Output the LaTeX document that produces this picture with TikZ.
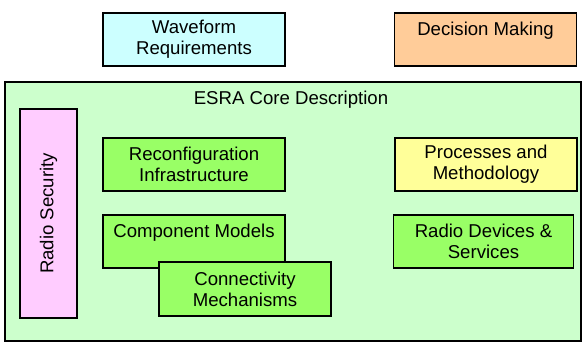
\documentclass[tikz,border=0pt]{standalone}
\usepackage{fontspec}
\setmainfont{Liberation Sans}
\usetikzlibrary{positioning}

\definecolor{wavecyan}{HTML}{CCFFFF}
\definecolor{decorange}{HTML}{FFCC99}
\definecolor{coregreen}{HTML}{CCFFCC}
\definecolor{partgreen}{HTML}{99FF66}
\definecolor{procyellow}{HTML}{FFFF99}
\definecolor{secpink}{HTML}{FFCCFF}

\begin{document}
\begin{tikzpicture}[x=1pt, y=-1pt, font=\fontsize{18.6}{21}\selectfont,
    node distance=22.5pt and 108.5pt,
    box/.style={draw, line width=1.5pt, minimum width=182pt, minimum height=53pt,
        align=center, inner sep=2pt, fill=partgreen}]
    \useasboundingbox (0,0) rectangle (584,343);
    \node[box, fill=wavecyan] (wave) at (194,39.5) {Waveform\\Requirements};
    \node[box, fill=decorange] (decide) at (485.5,39.5) {Decision Making\\\mbox{}};

    % core frame and its parts
    \node[draw, line width=1.5pt, fill=coregreen, minimum width=576pt, minimum height=259pt] (core) at (293,211.5) {};
    \node (title) at (291,100) {ESRA Core Description};
    \node[box, fill=secpink, minimum width=209pt, minimum height=57pt, rotate=90] (secure) at (48.5,213.5) {Radio Security};
    \node[box] (reconf) at (194,164.5) {Reconfiguration\\Infrastructure};
    \node[box, right=of reconf, fill=procyellow] (proc) {Processes and\\Methodology};
    \node[box, below=of reconf] (comp) {Component Models\\\mbox{}};
    \node[box, below=of proc, xshift=-2.5pt, minimum width=180pt] (devices) {Radio Devices \&\\Services};
    \node[box, minimum width=172pt, minimum height=54pt] (connect) at (245,289) {Connectivity\\Mechanisms};
\end{tikzpicture}
\end{document}
